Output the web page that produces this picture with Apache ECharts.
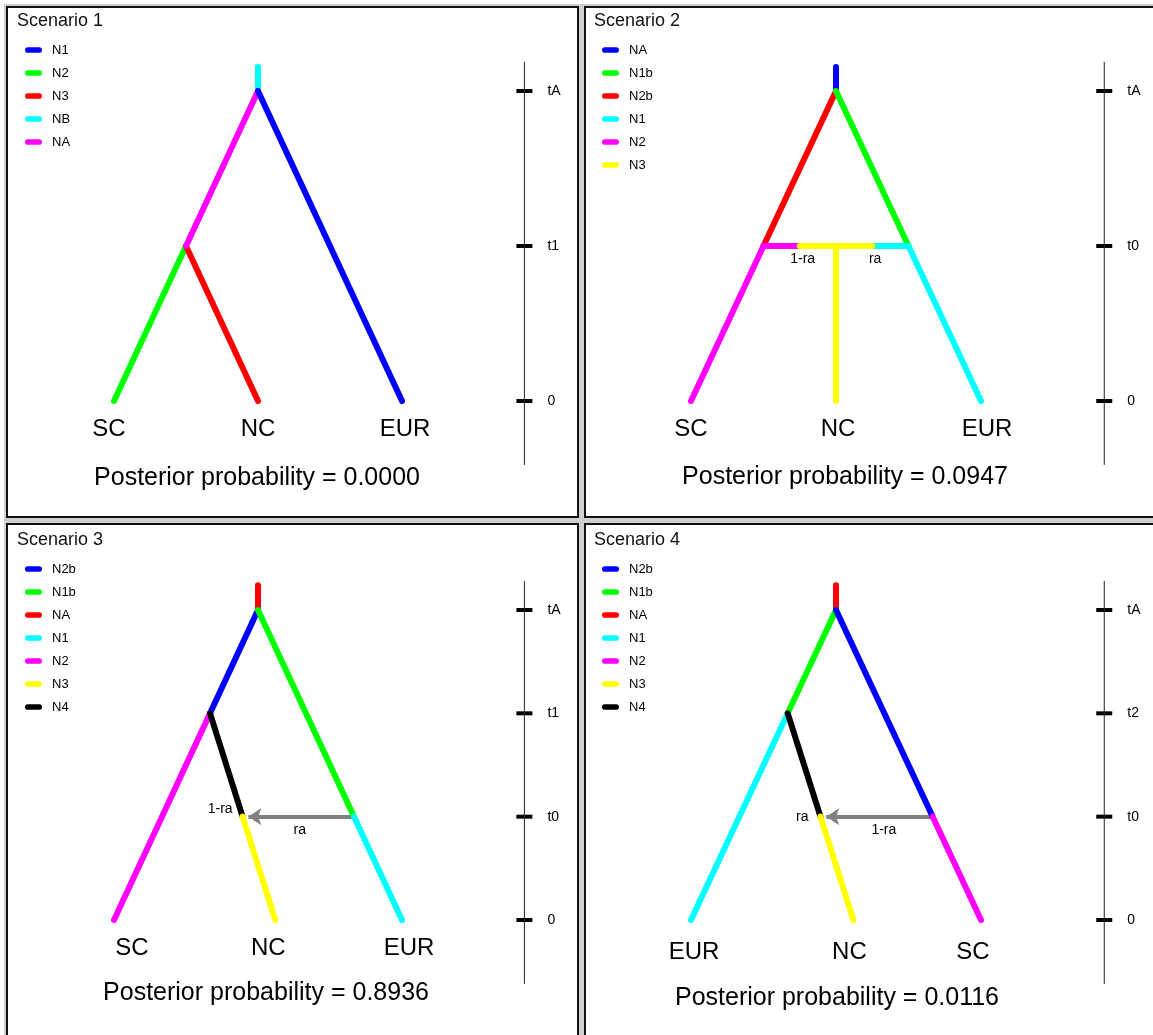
<!DOCTYPE html>
<html>
<head>
<meta charset="utf-8">
<script src="https://cdn.jsdelivr.net/npm/echarts@6/dist/echarts.min.js"></script>
<style>html,body{margin:0;padding:0;background:#fff}#chart{width:1153px;height:1035px}</style>
</head>
<body>
<div id="chart"></div>
<script>
var chart = echarts.init(document.getElementById('chart'));

var palette = ['#0000ff', '#00ff00', '#ff0000', '#00ffff', '#ff00ff', '#ffff00', '#000000'];
var FONT = '"Liberation Sans", Arial, sans-serif';

var scenarioNames = ['Scenario 1', 'Scenario 2', 'Scenario 3', 'Scenario 4'];
var posteriors = ['0.0000', '0.0947', '0.8936', '0.0116'];
var legendNames = [
    ['N1', 'N2', 'N3', 'NB', 'NA'],
    ['NA', 'N1b', 'N2b', 'N1', 'N2', 'N3'],
    ['N2b', 'N1b', 'NA', 'N1', 'N2', 'N3', 'N4'],
    ['N2b', 'N1b', 'NA', 'N1', 'N2', 'N3', 'N4']
];
var tickLabels = [
    ['0', 't1', 'tA'],
    ['0', 't0', 'tA'],
    ['0', 't0', 't1', 'tA'],
    ['0', 't0', 't2', 'tA']
];
var tipNames = [
    ['SC', 'NC', 'EUR'],
    ['SC', 'NC', 'EUR'],
    ['SC', 'NC', 'EUR'],
    ['EUR', 'NC', 'SC']
];
var tipX = [
    [0, 1, 2],
    [0, 1, 2],
    [0, 1.12, 2],
    [0, 1.12, 2]
];
// branches: [population, [x, t], [x, t]], t counted in tick steps
var branches = [
    [
        ['NB', [1, 2], [1, 2.155]],
        ['N2', [0, 0], [0.5, 1]],
        ['N3', [1, 0], [0.5, 1]],
        ['NA', [0.5, 1], [1, 2]],
        ['N1', [2, 0], [1, 2]]
    ],
    [
        ['NA', [1, 2], [1, 2.155]],
        ['N2b', [0.5, 1], [1, 2]],
        ['N1b', [1.5, 1], [1, 2]],
        ['N2', [0, 0], [0.5, 1]],
        ['N1', [2, 0], [1.5, 1]],
        ['N2', [0.5, 1], [0.75, 1]],
        ['N1', [1.5, 1], [1.25, 1]],
        ['N3', [0.75, 1], [1.25, 1]],
        ['N3', [1, 1], [1, 0]]
    ],
    [
        ['NA', [1, 3], [1, 3.24]],
        ['N2b', [1, 3], [0.667, 2]],
        ['N2', [0.667, 2], [0, 0]],
        ['N4', [0.667, 2], [0.893, 1]],
        ['N3', [0.893, 1], [1.12, 0]],
        ['N1b', [1, 3], [1.667, 1]],
        ['N1', [1.667, 1], [2, 0]]
    ],
    [
        ['NA', [1, 3], [1, 3.24]],
        ['N1b', [1, 3], [0.667, 2]],
        ['N1', [0.667, 2], [0, 0]],
        ['N4', [0.667, 2], [0.893, 1]],
        ['N3', [0.893, 1], [1.12, 0]],
        ['N2b', [1, 3], [1.667, 1]],
        ['N2', [1.667, 1], [2, 0]]
    ]
];
// admixture arrows: [from, to]
var arrows = [
    null,
    null,
    [[1.667, 1], [0.893, 1]],
    [[1.667, 1], [0.893, 1]]
];
// rate labels: [text, x, t, side]
var rateLabels = [
    [],
    [['1-ra', 0.77, 1, 'below'], ['ra', 1.27, 1, 'below']],
    [['1-ra', 0.893, 1, 'upleft'], ['ra', 1.29, 1, 'below']],
    [['ra', 0.893, 1, 'left'], ['1-ra', 1.33, 1, 'below']]
];

// panel layout
var offX = [0, 577, 0, 577];
var offY = [0, 0, 519, 519];
var pxX = [144, 145, 144, 145];
var postPos = [[257, 478], [845, 477], [266, 993], [837, 998]];
var tipLabelDx = [[-5, 0, 3], [0, 2, 6], [18, -7, 7], [3, -4, -8]];
var tipLabelDy = [0, 0, 0, 4];
var sideStyle = {
    below: { align: 'center', offset: [0, 13] },
    upleft: { align: 'right', offset: [-10, -8] },
    left: { align: 'right', offset: [-12, 0] }
};
var axisX = 2.85;

var grids = [], xAxes = [], yAxes = [], legends = [], titles = [], series = [];
var graphics = [
    { type: 'rect', shape: { x: 4, y: 4, width: 1160, height: 1040 }, style: { fill: '#cfcfcf' }, z: -10 }
];

function textLabel(d) { return d.value ? d.value[2] : d.data[2]; }

for (var p = 0; p < 4; p++) {
    var tmax = tickLabels[p].length - 1;
    var ox = offX[p], oy = offY[p];
    graphics.push({
        type: 'rect',
        shape: { x: (p % 2 ? 585 : 7), y: (p < 2 ? 7 : 524), width: (p % 2 ? 580 : 571), height: (p < 2 ? 510 : 520) },
        style: { fill: '#fff', stroke: '#111', lineWidth: 2 },
        z: -9
    });
    graphics.push({
        type: 'text', x: postPos[p][0], y: postPos[p][1], z: 10,
        style: {
            text: 'Posterior probability = ' + posteriors[p],
            fill: '#000', font: '25px ' + FONT, textAlign: 'center', textVerticalAlign: 'middle'
        }
    });
    grids.push({ left: 114 + ox - 0.75 * pxX[p], width: 3.75 * pxX[p], top: 13.5 + oy, height: 496 });
    xAxes.push({ type: 'value', gridIndex: p, min: -0.75, max: 3, show: false });
    yAxes.push({ type: 'value', gridIndex: p, min: -0.35, max: 1.25, show: false });
    titles.push({
        text: scenarioNames[p], left: 17 + ox, top: 12 + oy, padding: 0,
        textStyle: { fontSize: 18, fontWeight: 'normal', color: '#111', fontFamily: FONT }
    });
    legends.push({
        data: legendNames[p].map(function (n) { return p + '|' + n; }),
        formatter: function (name) { return name.split('|')[1]; },
        orient: 'vertical', left: 25 + ox, top: 43 + oy, padding: 0,
        itemWidth: 17, itemHeight: 6, itemGap: 9, selectedMode: false,
        icon: 'path://M3,0L15,0A3,3,0,0,1,15,6L3,6A3,3,0,0,1,3,0Z',
        textStyle: { fontSize: 13, lineHeight: 14, color: '#000', fontFamily: FONT, padding: [0, 0, 0, 5] }
    });

    branches[p].forEach(function (b) {
        var c = palette[legendNames[p].indexOf(b[0])];
        series.push({
            type: 'line', name: p + '|' + b[0], xAxisIndex: p, yAxisIndex: p,
            data: [[b[1][0], b[1][1] / tmax], [b[2][0], b[2][1] / tmax]],
            symbol: 'none', color: c, clip: false, silent: true,
            lineStyle: { color: c, width: 6, cap: 'round', join: 'round' }
        });
    });

    if (arrows[p]) {
        var a = arrows[p];
        series.push({
            type: 'lines', coordinateSystem: 'cartesian2d', xAxisIndex: p, yAxisIndex: p,
            symbol: ['none', 'arrow'], symbolSize: 13, silent: true,
            lineStyle: { color: '#808080', width: 4, opacity: 1 },
            data: [{ coords: [[a[0][0], a[0][1] / tmax], [a[1][0] + 0.04, a[1][1] / tmax]] }]
        });
    }

    // rate labels
    series.push({
        type: 'scatter', xAxisIndex: p, yAxisIndex: p, symbolSize: 0, silent: true,
        itemStyle: { opacity: 1 },
        data: rateLabels[p].map(function (r) {
            return { value: [r[1], r[2] / tmax, r[0]], label: sideStyle[r[3]] };
        }),
        label: {
            show: true, position: 'inside', fontSize: 14, color: '#000', fontFamily: FONT,
            formatter: textLabel
        }
    });

    // time axis
    series.push({
        type: 'line', xAxisIndex: p, yAxisIndex: p, symbol: 'none', silent: true,
        data: [[axisX, -0.206], [axisX, 1.094]],
        lineStyle: { color: '#222', width: 1 }
    });
    series.push({
        type: 'scatter', xAxisIndex: p, yAxisIndex: p, silent: true,
        symbol: 'rect', symbolSize: [16, 4], itemStyle: { color: '#000', opacity: 1 },
        data: tickLabels[p].map(function (l, i) { return [axisX, i / tmax, l]; }),
        label: {
            show: true, position: 'right', distance: 15, fontSize: 14, color: '#000', fontFamily: FONT,
            formatter: textLabel
        }
    });

    // tip names
    series.push({
        type: 'scatter', xAxisIndex: p, yAxisIndex: p, symbolSize: 0, silent: true,
        itemStyle: { opacity: 1 },
        data: tipX[p].map(function (x, i) {
            return {
                value: [x, 0, tipNames[p][i]],
                label: { offset: [tipLabelDx[p][i], tipLabelDy[p]] }
            };
        }),
        label: {
            show: true, position: 'bottom', distance: 16, fontSize: 24, color: '#000', fontFamily: FONT,
            formatter: textLabel
        }
    });
}

var option = {
    animation: false,
    textStyle: { fontFamily: FONT },
    title: titles,
    legend: legends,
    grid: grids,
    xAxis: xAxes,
    yAxis: yAxes,
    graphic: graphics,
    series: series
};
chart.setOption(option);
</script>
</body>
</html>
